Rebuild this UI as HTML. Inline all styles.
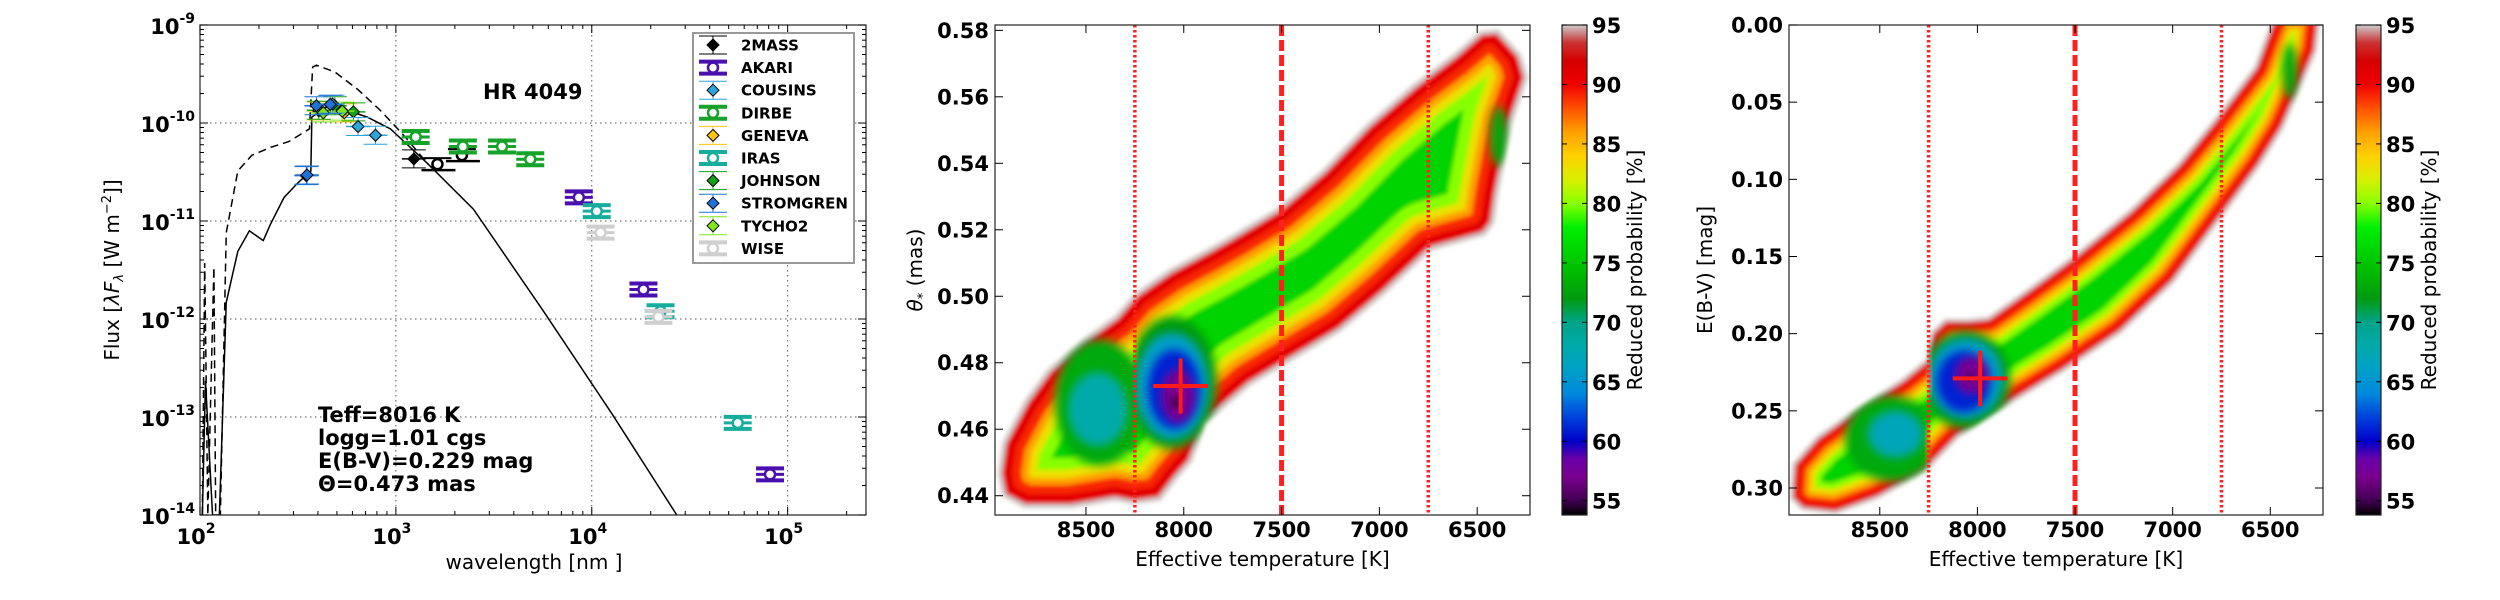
<!DOCTYPE html>
<html><head><meta charset="utf-8"><style>
html,body{margin:0;padding:0;background:#fff;}
svg{display:block;font-family:"DejaVu Sans","Liberation Sans",sans-serif;}
.tk{font-weight:bold;font-size:21px;fill:#000;}
.lab{font-size:20px;fill:#000;}
</style></head><body>
<svg id="fig" width="2500" height="600" viewBox="0 0 2500 600" xmlns="http://www.w3.org/2000/svg">
<defs>
<filter id="soft" x="-5%" y="-5%" width="110%" height="110%"><feGaussianBlur stdDeviation="2"/></filter>
<filter id="soft2" x="-30%" y="-30%" width="160%" height="160%"><feGaussianBlur stdDeviation="4"/></filter>
<linearGradient id="cmap" x1="0" y1="1" x2="0" y2="0"></linearGradient>
</defs>
<g id="sed"></g>
<g id="mid"></g>
<g id="rgt"></g>
</svg>
<script>
// ---------------- data: SED panel ----------------
const modelLogLam = [2.012,2.028,2.064,2.099,2.134,2.193,2.252,2.323,2.358,2.429,2.500,2.566,2.571,2.642,2.736,2.854,2.972,3.160,3.396,3.75,4.104,4.434];
const modelLogFlux = [-14,-12.63,-14,-14,-11.83,-11.31,-11.10,-11.20,-11.04,-10.76,-10.61,-10.49,-9.94,-9.84,-9.86,-9.94,-10.06,-10.41,-10.88,-11.91,-12.97,-14.0];
const unredLogLam = [2.012,2.024,2.040,2.071,2.080,2.104,2.134,2.193,2.264,2.358,2.453,2.559,2.575,2.594,2.689,2.807,2.925,3.042,3.160];
const unredLogFlux = [-14,-11.43,-14,-11.47,-14,-14,-11.12,-10.49,-10.33,-10.25,-10.19,-10.06,-9.43,-9.41,-9.48,-9.66,-9.88,-10.13,-10.41];
const surveys = ['2MASS','AKARI','COUSINS','DIRBE','GENEVA','IRAS','JOHNSON','STROMGREN','TYCHO2','WISE'];
const surveyColors = ['#000000','#4b0fb0','#2aa6dc','#17a22a','#ffc20e','#17ad9d','#16a016','#1f72d6','#7ee81a','#cfcfcf'];
const surveyOpen = [false,true,false,true,false,true,false,false,false,true];
const ptSurvey = [0,0,0, 4,4, 6,6,6, 8,8, 2,2,2, 7,7,7,7, 3,3,3,3, 1,1,1, 5,5,5, 9,9];
const ptLam  = [1235,1630,2173, 404,545, 404,488,607, 426,532, 641,787,475, 349,352,393,462, 1262,2198,3483,4853, 8590,18360,81300, 10600,22440,55600, 11090,21880];
const ptFlux = [4.3e-11,3.8e-11,4.7e-11, 1.33e-10,1.27e-10, 1.35e-10,1.5e-10,1.3e-10, 1.27e-10,1.32e-10, 9.2e-11,7.5e-11,1.56e-10, 2.9e-11,2.95e-11,1.5e-10,1.55e-10, 7.2e-11,5.75e-11,5.75e-11,4.27e-11, 1.74e-11,2.0e-12,2.6e-14, 1.26e-11,1.2e-12,8.7e-14, 7.6e-12,1.05e-12];
const ptOpenOverride = [false,true,true];
// ---------------- data: probability maps ----------------
const midOutlineT = [8949,8926,8811,8696,8512,8350,8247,8074,7889,7751,7521,7290,7060,6830,6622,6484,6392,6277,6242,6323,6392,6415,6461,6737,6968,7198,7429,7659,7889,7959,8028,8120,8258,8350,8581,8811,8926];
const midOutlineTheta = [0.4467,0.4560,0.4687,0.4779,0.4872,0.4941,0.5010,0.5080,0.5138,0.5184,0.5265,0.5380,0.5519,0.5635,0.5727,0.5797,0.5802,0.5727,0.5658,0.5519,0.5311,0.5219,0.5184,0.5138,0.5010,0.4895,0.4814,0.4733,0.4617,0.4502,0.4456,0.4386,0.4375,0.4386,0.4363,0.4363,0.4398];
const rgtOutlineT = [8959,8946,8824,8629,8385,8263,8239,8166,8044,7946,7751,7507,7215,6971,6776,6580,6471,6239,6264,6434,6556,6776,6995,7263,7556,7849,8093,8263,8507,8727,8898];
const rgtOutlineEbv = [0.3067,0.2843,0.2668,0.2493,0.2293,0.2168,0.1993,0.1906,0.1906,0.1893,0.1719,0.1494,0.1194,0.0894,0.0594,0.0270,-0.01,-0.01,0.0170,0.0669,0.0919,0.1294,0.1669,0.1993,0.2243,0.2468,0.2668,0.2893,0.3067,0.3167,0.3142];
// blobs: centre T, centre value, half-size T, half-size value, level (%), side (L = hotter than 8250 K, R = cooler)
const midBlobT = [8430,8440,8060,8060,8050,8030,8045,6390];
const midBlobV = [0.468,0.466,0.474,0.473,0.472,0.470,0.468,0.548];
const midBlobDT = [230,150,230,185,135,85,16,45];
const midBlobDV = [0.019,0.011,0.020,0.016,0.012,0.008,0.0016,0.009];
const midBlobLevel = [73,68,72,66,61,57,54,73];
const midBlobSide = ['L','L','R','R','R','R','R','A'];
const rgtBlobT = [8440,8420,8060,8060,8070,8030,8040,6400];
const rgtBlobV = [0.268,0.265,0.230,0.229,0.231,0.227,0.228,0.03];
const rgtBlobDT = [240,140,230,190,140,85,16,40];
const rgtBlobDV = [0.028,0.015,0.032,0.026,0.020,0.012,0.002,0.018];
const rgtBlobLevel = [73,67,72,66,61,57,54,73];
const rgtBlobSide = ['L','L','R','R','R','R','R','A'];
const bestTeff = 8016, bestTheta = 0.473, bestEbv = 0.229;
const errTeff = 140, errTheta = 0.0083, errEbv = 0.018;
const tempLines = [8250,7500,6750];
const tempLineStyle = ['dot','dash','dot'];
const teffTicks = [8500,8000,7500,7000,6500];
const thetaTicks = [0.44,0.46,0.48,0.50,0.52,0.54,0.56,0.58];
const ebvTicks = [0.00,0.05,0.10,0.15,0.20,0.25,0.30];
const cbarTicks = [55,60,65,70,75,80,85,90,95];
const cmapLevels = [53.8,55,57,58.5,60,62,64,66,68,70,72,74,76,78,80,82,84,86,88,90,92,93.5,95];
const cmapColors = ['#000000','#400050','#7a0090','#6a00a8','#0000c8','#0040dd','#0088dd','#00a0c8','#00aaaa','#00a488','#009a10','#00b800','#00d400','#00f000','#88ff00','#d8f000','#ffd000','#ffa000','#ff5000','#f00000','#d60000','#cc3030','#cccccc'];

const NS='http://www.w3.org/2000/svg';
function mk(parent, tag, attrs, text){const e=document.createElementNS(NS,tag);for(const k in attrs)e.setAttribute(k,attrs[k]);if(text!==undefined)e.textContent=text;parent.appendChild(e);return e;}
function hex(c){return [parseInt(c.slice(1,3),16),parseInt(c.slice(3,5),16),parseInt(c.slice(5,7),16)];}
function cmap(v){
  if(v<=cmapLevels[0])return cmapColors[0];
  for(let i=1;i<cmapLevels.length;i++){if(v<=cmapLevels[i]){const f=(v-cmapLevels[i-1])/(cmapLevels[i]-cmapLevels[i-1]);const a=hex(cmapColors[i-1]),b=hex(cmapColors[i]);return 'rgb('+a.map((x,j)=>Math.round(x+(b[j]-x)*f)).join(',')+')';}}
  return cmapColors[cmapColors.length-1];
}
const grad=document.getElementById('cmap');
cmapLevels.forEach((lv,i)=>{mk(grad,'stop',{offset:((lv-53.8)/(95-53.8)).toFixed(4),'stop-color':cmapColors[i]});});

// ================= SED panel =================
const S={x0:200,x1:866,y0:25,y1:515,l0:2,l1:5.4,f0:-9,f1:-14};
const sx=l=>S.x0+(l-S.l0)/(S.l1-S.l0)*(S.x1-S.x0);
const sy=lf=>S.y0+(S.f0-lf)/(S.f0-S.f1)*(S.y1-S.y0);
const sed=document.getElementById('sed');
const scp=mk(sed,'clipPath',{id:'sedclip'});
mk(scp,'rect',{x:S.x0,y:S.y0,width:S.x1-S.x0,height:S.y1-S.y0});
const sg=mk(sed,'g',{});


for(let d=3;d<=5;d++)mk(sg,'line',{x1:sx(d),x2:sx(d),y1:S.y0,y2:S.y1,stroke:'#555','stroke-width':1,'stroke-dasharray':'1.5,3.5'});
for(let d=-10;d>=-13;d--)mk(sg,'line',{x1:S.x0,x2:S.x1,y1:sy(d),y2:sy(d),stroke:'#555','stroke-width':1,'stroke-dasharray':'1.5,3.5'});
const sp=mk(sed,'g',{'clip-path':'url(#sedclip)'});
let p1=mk(sp,'polyline',{points:unredLogLam.map((l,i)=>sx(l)+','+sy(unredLogFlux[i])).join(' '),fill:'none',stroke:'#000','stroke-width':1.5,'stroke-dasharray':'8,5'});


let p2=mk(sp,'polyline',{points:modelLogLam.map((l,i)=>sx(l)+','+sy(modelLogFlux[i])).join(' '),fill:'none',stroke:'#000','stroke-width':1.5});


function diamond(g,x,y,r,fill){return mk(g,'polygon',{points:`${x},${y-r} ${x+r},${y} ${x},${y+r} ${x-r},${y}`,fill:fill,stroke:'#000','stroke-width':1});}
function drawMarker(g,x,y,si,open,legend){
  const c=surveyColors[si];
  if(surveyOpen[si]||open){
    const w=14;
    if(surveyOpen[si]){
      mk(g,'line',{x1:x-w,x2:x+w,y1:y-6,y2:y-6,stroke:c,'stroke-width':4});
      mk(g,'line',{x1:x-w,x2:x+w,y1:y+6,y2:y+6,stroke:c,'stroke-width':4});
      if(!legend) mk(g,'line',{x1:x-w,x2:x+w,y1:y,y2:y,stroke:c,'stroke-width':3});
      mk(g,'line',{x1:x,x2:x,y1:y-6,y2:y+6,stroke:c,'stroke-width':2});
      mk(g,'circle',{cx:x,cy:y,r:5,fill:'#fff',stroke:c,'stroke-width':2.5});
    } else {
      mk(g,'line',{x1:x-16,x2:x+18,y1:y+6,y2:y+6,stroke:c,'stroke-width':2.5});
      mk(g,'line',{x1:x-14,x2:x+14,y1:y-6,y2:y-6,stroke:c,'stroke-width':2});
      mk(g,'line',{x1:x,x2:x,y1:y-6,y2:y+6,stroke:c,'stroke-width':1.5});
      mk(g,'circle',{cx:x,cy:y,r:5,fill:'#fff',stroke:c,'stroke-width':2.5});
    }
  } else {
    const w=legend?14:12;
    mk(g,'line',{x1:x-w,x2:x+w,y1:y-9,y2:y-9,stroke:c,'stroke-width':1});
    mk(g,'line',{x1:x-w,x2:x+w,y1:y+9,y2:y+9,stroke:c,'stroke-width':1});
    mk(g,'line',{x1:x,x2:x,y1:y-9,y2:y+9,stroke:c,'stroke-width':1});
    if(!legend) mk(g,'line',{x1:x-w,x2:x+w,y1:y,y2:y,stroke:c,'stroke-width':1.5});
    diamond(g,x,y,6,c);
  }
}
ptLam.forEach((lam,i)=>{
  const g=mk(sp,'g',{});
  
  
  drawMarker(g,sx(Math.log10(lam)),sy(Math.log10(ptFlux[i])),ptSurvey[i],ptOpenOverride[i]||false,false);
});
mk(sed,'rect',{x:S.x0,y:S.y0,width:S.x1-S.x0,height:S.y1-S.y0,fill:'none',stroke:'#222','stroke-width':1.2});
const stk=mk(sed,'g',{stroke:'#000','stroke-width':1});
for(let d=2;d<=5;d++){for(let m=1;m<=9;m++){const l=d+Math.log10(m);if(l>S.l1)break;const L=m===1?8:4;const x=sx(l);mk(stk,'line',{x1:x,x2:x,y1:S.y1,y2:S.y1-L});mk(stk,'line',{x1:x,x2:x,y1:S.y0,y2:S.y0+L});}}
for(let d=-14;d<=-9;d++){for(let m=1;m<=9;m++){const l=d+Math.log10(m);if(l>-9)break;const L=m===1?8:4;const y=sy(l);mk(stk,'line',{x1:S.x0,x2:S.x0+L,y1:y,y2:y});mk(stk,'line',{x1:S.x1,x2:S.x1-L,y1:y,y2:y});}}
for(let d=-9;d>=-14;d--){const t=mk(sed,'text',{class:'tk',x:195,y:sy(d)+9,'text-anchor':'end'});
  mk(t,'tspan',{},'10');mk(t,'tspan',{dy:-11,'font-size':14},String(d));}
for(let d=2;d<=5;d++){const t=mk(sed,'text',{class:'tk',x:sx(d)-4,y:544,'text-anchor':'middle'});
  mk(t,'tspan',{},'10');mk(t,'tspan',{dy:-11,'font-size':14},String(d));}
let xl=mk(sed,'text',{class:'lab',x:534,y:569,'text-anchor':'middle'},'wavelength [nm ]');

let yl=mk(sed,'text',{class:'lab',transform:'translate(119,270) rotate(-90)','text-anchor':'middle'});

mk(yl,'tspan',{},'Flux [');mk(yl,'tspan',{'font-style':'italic'},'λF');mk(yl,'tspan',{'font-size':13,dy:4,'font-style':'italic'},'λ');mk(yl,'tspan',{dy:-4},' [W  m');mk(yl,'tspan',{'font-size':13,dy:-8},'−2');mk(yl,'tspan',{dy:8},']]');
let ti=mk(sed,'text',{class:'tk',x:483,y:99},'HR 4049');

['Teff=8016 K','logg=1.01 cgs','E(B-V)=0.229 mag','Θ=0.473 mas'].forEach((s,i)=>{const t=mk(sed,'text',{class:'tk',x:318,y:422+i*23},s);});
const lg=mk(sed,'g',{});


mk(lg,'rect',{x:693,y:33,width:161,height:230,fill:'#fff',stroke:'#999','stroke-width':2});
surveys.forEach((s,i)=>{const y=45+i*22.6;const g=mk(lg,'g',{});
  drawMarker(g,713,y,i,false,true);mk(g,'text',{x:741,y:y+5.5,'font-size':15,'font-weight':'bold'},s);});

// ================= probability panels =================
const T0=8965,T1=6230;
function panel(gid,P){
  const g=document.getElementById(gid);
  const px=t=>P.x0+(T0-t)/(T0-T1)*(P.x1-P.x0);
  const py=v=>P.y0+(v-P.v0)/(P.v1-P.v0)*(P.y1-P.y0);
  const cid=gid+'clip';
  const cp=mk(g,'clipPath',{id:cid});mk(cp,'rect',{x:P.x0,y:P.y0,width:P.x1-P.x0,height:P.y1-P.y0});
  const oid=gid+'out';
  const pts=P.oT.map((t,i)=>px(t)+','+py(P.oV[i])).join(' ');
  const cp2=mk(g,'clipPath',{id:oid});mk(cp2,'polygon',{points:pts});
  const plot=mk(g,'g',{'clip-path':`url(#${cid})`});
  const cloud=mk(plot,'g',{filter:'url(#soft)'});
  
  
  const inner=mk(cloud,'g',{'clip-path':`url(#${oid})`});
  mk(inner,'polygon',{points:pts,fill:cmap(76)});
  P.layers.forEach(([lv,hw])=>mk(inner,'polygon',{points:pts,fill:'none',stroke:cmap(lv),'stroke-width':2*hw,'stroke-linejoin':'round'}));
  const xs=px(8250);
  const clL=gid+'cl',clR=gid+'cr';
  const a=mk(g,'clipPath',{id:clL});mk(a,'rect',{x:0,y:0,width:xs,height:600});
  const b=mk(g,'clipPath',{id:clR});mk(b,'rect',{x:xs,y:0,width:2500,height:600});
  P.bT.forEach((t,i)=>{
    const gg=mk(inner,'g',P.bS[i]==='A'?{}:{'clip-path':`url(#${P.bS[i]==='L'?clL:clR})`});
    const e=mk(gg,'ellipse',{cx:px(t),cy:py(P.bV[i]),rx:Math.abs(px(t+P.bDT[i])-px(t)),ry:Math.abs(py(P.bV[i]+P.bDV[i])-py(P.bV[i])),fill:cmap(P.bL[i]),filter:'url(#soft2)'});
    
    
  });
  tempLines.forEach((t,i)=>{const x=px(t);const l=mk(plot,'line',{x1:x,x2:x,y1:P.y0,y2:P.y1,stroke:'#ff2020','stroke-width':tempLineStyle[i]==='dash'?5:3.5,'stroke-dasharray':tempLineStyle[i]==='dash'?'11,4':'2.5,2.5'});
    });
  const cr=mk(plot,'g',{stroke:'#ff1a1a','stroke-width':4});
  
  
  mk(cr,'line',{x1:px(P.bx-errTeff),x2:px(P.bx+errTeff),y1:py(P.by),y2:py(P.by)});
  mk(cr,'line',{x1:px(P.bx),x2:px(P.bx),y1:py(P.by-P.be),y2:py(P.by+P.be)});
  mk(g,'rect',{x:P.x0,y:P.y0,width:P.x1-P.x0,height:P.y1-P.y0,fill:'none',stroke:'#222','stroke-width':1.2});
  const tk=mk(g,'g',{stroke:'#000','stroke-width':1});
  teffTicks.forEach(t=>{const x=px(t);mk(tk,'line',{x1:x,x2:x,y1:P.y1,y2:P.y1-8});mk(tk,'line',{x1:x,x2:x,y1:P.y0,y2:P.y0+8});
    const l=mk(g,'text',{class:'tk',x:x,y:537,'text-anchor':'middle'},String(t));});
  P.vTicks.forEach(v=>{const y=py(v);mk(tk,'line',{x1:P.x0,x2:P.x0+8,y1:y,y2:y});mk(tk,'line',{x1:P.x1,x2:P.x1-8,y1:y,y2:y});
    const l=mk(g,'text',{class:'tk',x:P.x0-6,y:y+7.5,'text-anchor':'end'},v.toFixed(2));});
  const xt=mk(g,'text',{class:'lab',x:(P.x0+P.x1)/2,y:566,'text-anchor':'middle'},'Effective temperature [K]');
  
  const yt=mk(g,'text',{class:'lab',transform:`translate(${P.ylx},270) rotate(-90)`,'text-anchor':'middle'});
  
  P.ylab(yt);
  const cb=mk(g,'g',{});
  
  
  mk(cb,'rect',{x:P.cx,y:25,width:25,height:490,fill:'url(#cmap)',stroke:'#222','stroke-width':1.2});
  const cy=v=>515-(v-53.8)/(95-53.8)*490;
  cbarTicks.forEach(v=>{const y=cy(v);mk(cb,'line',{x1:P.cx,x2:P.cx+5,y1:y,y2:y,stroke:'#000'});mk(cb,'line',{x1:P.cx+25,x2:P.cx+20,y1:y,y2:y,stroke:'#000'});
    const l=mk(cb,'text',{class:'tk',x:P.cx+30,y:y+8},String(v));});
  const ct=mk(cb,'text',{class:'lab',transform:`translate(${P.cx+80},270) rotate(-90)`,'text-anchor':'middle'},'Reduced probability [%]');
  
}
panel('mid',{x0:995,x1:1530,y0:25,y1:515,v0:0.5816,v1:0.4342,oT:midOutlineT,oV:midOutlineTheta,
  layers:[[80,50],[83,38],[86,30],[89,23],[91,14],[95,4]],
  bT:midBlobT,bV:midBlobV,bDT:midBlobDT,bDV:midBlobDV,bL:midBlobLevel,bS:midBlobSide,
  bx:bestTeff,by:bestTheta,be:errTheta,vTicks:thetaTicks,ylx:922,cx:1562,
  ylab:t=>{mk(t,'tspan',{'font-style':'italic'},'θ');mk(t,'tspan',{'font-size':13,dy:5},'*');mk(t,'tspan',{dy:-5},' (mas)');}});
panel('rgt',{x0:1789,x1:2323,y0:25,y1:515,v0:0,v1:0.3175,oT:rgtOutlineT,oV:rgtOutlineEbv,
  layers:[[80,30],[83,24],[86,19],[89,14],[91,8],[95,3]],
  bT:rgtBlobT,bV:rgtBlobV,bDT:rgtBlobDT,bDV:rgtBlobDV,bL:rgtBlobLevel,bS:rgtBlobSide,
  bx:bestTeff-30,by:bestEbv,be:errEbv,vTicks:ebvTicks,ylx:1712,cx:2356,
  ylab:t=>{t.textContent='E(B-V) [mag]';}});
</script>
</body></html>
